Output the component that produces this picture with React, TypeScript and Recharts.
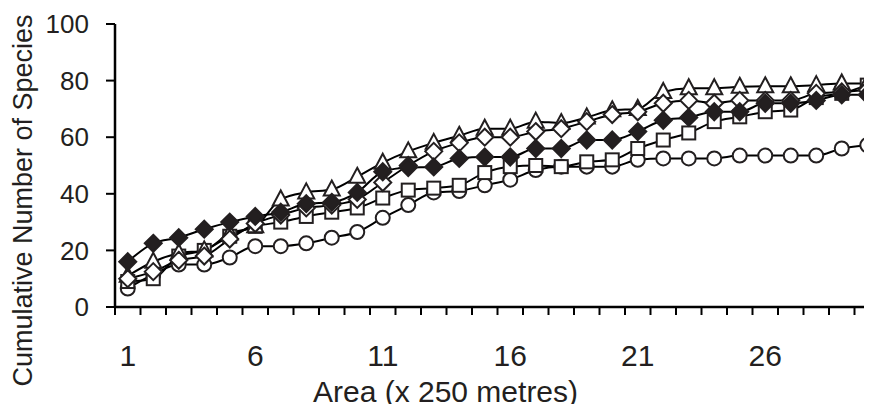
import { LineChart, Line, XAxis, YAxis } from "recharts";

// area index (x 250 metres)
const areas = [1, 2, 3, 4, 5, 6, 7, 8, 9, 10, 11, 12, 13, 14, 15, 16, 17, 18, 19, 20, 21, 22, 23, 24, 25, 26, 27, 28, 29, 30];

// cumulative species, one array per curve
const filledDiamond = [16, 22.5, 24.5, 27.5, 30, 32, 33.5, 36.5, 37, 40.5, 47.8, 49.3, 49.5, 52.5, 53, 53, 56, 56, 59, 59, 62, 66, 67, 69, 69, 72, 72, 73, 75, 75];
const openDiamond = [10, 12.5, 16.5, 18, 24, 29.5, 32.5, 35, 36, 38, 44, 50, 55, 58, 60, 60, 62, 63, 65.5, 68, 69, 72, 73, 72, 73, 73, 73, 75.5, 76, 76.7];
const openTriangle = [11, 16, 19, 20, 26, 28.5, 38, 40.5, 41.5, 46, 51, 55, 58, 60.5, 63, 63, 65.5, 65, 67, 69.5, 70, 76, 77.3, 77.3, 77.8, 78, 78, 78.4, 79, 79];
const openSquare = [9, 10, 18, 20, 25, 28.5, 30, 32, 33.5, 35, 38.5, 41.3, 42, 43, 47.5, 49.6, 50, 49.6, 51.3, 52, 56, 59, 61.5, 65.5, 67.2, 69, 69.6, 74, 75.5, 78.4];
const openCircle = [6.5, 11.5, 15, 15, 17.5, 21.5, 21.5, 22.5, 24.5, 26.5, 31.5, 36, 40.5, 41, 43, 45, 48.4, 49.6, 49.6, 49.6, 52, 52.5, 52.5, 52.5, 53.5, 53.5, 53.5, 53.5, 56, 57.2];

const yTicks = [0, 20, 40, 60, 80, 100];
const xLabels = [1, 6, 11, 16, 21, 26];

const data = areas.map((a, i) => ({
  area: a,
  fd: filledDiamond[i],
  od: openDiamond[i],
  tri: openTriangle[i],
  sq: openSquare[i],
  circ: openCircle[i],
}));

// tick marks sit between categories, labels on the categories
const xTicks = [...areas.map((a) => a - 0.5), areas[areas.length - 1] + 0.5, ...areas].sort((a, b) => a - b);

const INK = "#231f20";

const XTick = (props: any) => {
  const { x, y, payload } = props;
  const v = payload.value;
  if (!Number.isInteger(v)) {
    return <line x1={x} x2={x} y1={y} y2={y + 8} stroke="#000" strokeWidth={2} />;
  }
  if (!xLabels.includes(v)) return <g />;
  return (
    <text x={x} y={y + 48} dy="0.355em" textAnchor="middle" fontSize={30} fill={INK}>
      {v}
    </text>
  );
};

const dot = (kind: string) => (p: any) => {
  const { cx, cy, index } = p;
  if (cx == null || cy == null) return <g key={index} />;
  if (kind === "fd" || kind === "od") {
    const r = 8.5;
    return (
      <polygon
        key={index}
        points={`${cx},${cy - r} ${cx + r},${cy} ${cx},${cy + r} ${cx - r},${cy}`}
        fill={kind === "fd" ? INK : "#fff"}
        stroke={INK}
        strokeWidth={2}
      />
    );
  }
  if (kind === "tri") {
    return (
      <polygon
        key={index}
        points={`${cx},${cy - 9} ${cx + 8},${cy + 6} ${cx - 8},${cy + 6}`}
        fill="#fff"
        stroke={INK}
        strokeWidth={2}
      />
    );
  }
  if (kind === "sq") {
    return <rect key={index} x={cx - 6.5} y={cy - 6.5} width={13} height={13} fill="#fff" stroke={INK} strokeWidth={2} />;
  }
  return <circle key={index} cx={cx} cy={cy} r={7} fill="#fff" stroke={INK} strokeWidth={2} />;
};

const series = [
  { key: "circ" },
  { key: "sq" },
  { key: "tri" },
  { key: "od" },
  { key: "fd" },
];

export default function App() {
  return (
    <div
      style={{
        margin: -8,
        width: 872,
        height: 412,
        overflow: "hidden",
        background: "#fff",
        fontFamily: "'Liberation Sans', Arial, sans-serif",
      }}
    >
      <LineChart width={880} height={412} data={data} margin={{ top: 24, right: 0, bottom: 0, left: 0 }}>
        <XAxis
          dataKey="area"
          type="number"
          domain={[0.5, 30.5]}
          ticks={xTicks}
          interval={0}
          tick={<XTick />}
          tickLine={false}
          tickSize={0}
          tickMargin={0}
          height={105}
          axisLine={{ stroke: "#000", strokeWidth: 2.5 }}
          label={{
            content: (p: any) => {
              const vb = p.viewBox;
              return (
                <text x={vb.x + vb.width / 2 - 52} y={vb.y + 84} dy="0.355em" textAnchor="middle" fontSize={30} fill={INK}>
                  Area (x 250 metres)
                </text>
              );
            },
          }}
        />
        <YAxis
          type="number"
          domain={[0, 100]}
          ticks={yTicks}
          interval={0}
          width={115}
          tickSize={9}
          tickMargin={17}
          tick={{ fontSize: 26, fill: INK }}
          tickLine={{ stroke: "#000", strokeWidth: 2 }}
          axisLine={{ stroke: "#000", strokeWidth: 2.5 }}
          label={{
            content: (p: any) => {
              const vb = p.viewBox;
              return (
                <text
                  transform={`translate(${vb.x + 22}, ${vb.y + vb.height / 2 + 35}) rotate(-90)`}
                  dy="0.355em"
                  textAnchor="middle"
                  fontSize={27}
                  fill={INK}
                >
                  Cumulative Number of Species
                </text>
              );
            },
          }}
        />
        {series.map((s) => (
          <Line
            key={s.key}
            dataKey={s.key}
            type="monotone"
            stroke="#000"
            strokeWidth={2}
            dot={dot(s.key)}
            activeDot={false}
            isAnimationActive={false}
          />
        ))}
      </LineChart>
    </div>
  );
}
